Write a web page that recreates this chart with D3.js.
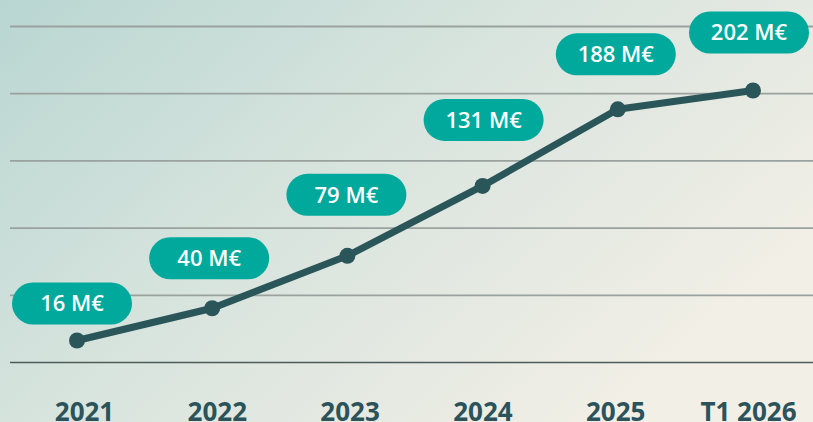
<!DOCTYPE html>
<html>
<head>
<meta charset="utf-8">
<script src="https://cdn.jsdelivr.net/npm/d3@7"></script>
<style>
  html, body { margin: 0; padding: 0; }
  body { width: 813px; height: 422px; overflow: hidden; }
</style>
</head>
<body>
<svg id="chart"></svg>
<script>
// Data
const periods = ['2021', '2022', '2023', '2024', '2025', 'T1 2026'];
const amounts = [16, 40, 79, 131, 188, 202];
const gridValues = [0, 50, 100, 150, 200, 250];

// Label placement (pixels above / beside each point)
const labelLift = [37, 50, 61, 66, 55, 58];
const labelShift = [-5, -3, -1, 1, -2, -4];

const width = 813;
const height = 422;

const svg = d3.select('#chart')
  .attr('width', width)
  .attr('height', height);

// Background gradient
const defs = svg.append('defs');
const grad = defs.append('linearGradient')
  .attr('id', 'bg')
  .attr('x1', '0%').attr('y1', '0%')
  .attr('x2', '100%').attr('y2', '60%');
grad.append('stop').attr('offset', '0%').attr('stop-color', '#b9d6d2');
grad.append('stop').attr('offset', '45%').attr('stop-color', '#d6e3dd');
grad.append('stop').attr('offset', '100%').attr('stop-color', '#f2efe6');

svg.append('rect')
  .attr('width', width)
  .attr('height', height)
  .attr('fill', 'url(#bg)');

// Scales
const xScale = d3.scalePoint()
  .domain(periods)
  .range([77, 753]);

// axis labels sit on a slightly narrower spread than the points
const xLabelScale = d3.scalePoint()
  .domain(periods)
  .range([84, 748]);

const yScale = d3.scaleLinear()
  .domain([0, 250])
  .range([362, 26]);

// Gridlines
svg.append('g')
  .attr('class', 'grid')
  .selectAll('line')
  .data(gridValues)
  .enter().append('line')
  .attr('x1', 10)
  .attr('x2', width)
  .attr('y1', d => yScale(d) + 0.5)
  .attr('y2', d => yScale(d) + 0.5)
  .attr('stroke', d => d === 0 ? '#4d5c5a' : '#9aa29f')
  .attr('stroke-width', d => d === 0 ? 1.6 : 1.8);

// x axis labels
const xAxis = svg.append('g')
  .attr('transform', 'translate(0,421)')
  .call(d3.axisBottom(xLabelScale).tickSize(0).tickPadding(0));

xAxis.select('.domain').remove();
xAxis.selectAll('text')
  .attr('y', 0)
  .attr('dy', 0)
  .style('font-family', '"Open Sans", sans-serif')
  .style('font-weight', 700)
  .style('font-size', '26px')
  .style('fill', '#2b5359');

// Line
const line = d3.line()
  .x((d, i) => xScale(periods[i]))
  .y(d => yScale(d));

svg.append('path')
  .datum(amounts)
  .attr('fill', 'none')
  .attr('stroke', '#2a565a')
  .attr('stroke-width', 7)
  .attr('stroke-linejoin', 'round')
  .attr('d', line);

svg.selectAll('.dot')
  .data(amounts)
  .enter().append('circle')
  .attr('class', 'dot')
  .attr('cx', (d, i) => xScale(periods[i]))
  .attr('cy', d => yScale(d))
  .attr('r', 8)
  .attr('fill', '#2a565a');

// Value pills
const pillW = 120;
const pillH = 42;

const pills = svg.selectAll('.pill')
  .data(amounts)
  .enter().append('g')
  .attr('class', 'pill')
  .attr('transform', (d, i) =>
    `translate(${xScale(periods[i]) + labelShift[i]},${yScale(d) - labelLift[i]})`);

pills.append('rect')
  .attr('x', -pillW / 2)
  .attr('y', -pillH / 2)
  .attr('width', pillW)
  .attr('height', pillH)
  .attr('rx', pillH / 2)
  .attr('fill', '#00a99c');

pills.append('text')
  .attr('text-anchor', 'middle')
  .attr('dy', '0.36em')
  .style('font-family', '"Open Sans", sans-serif')
  .style('font-weight', 600)
  .style('font-size', '22px')
  .style('fill', '#ffffff')
  .text(d => `${d} M€`);
</script>
</body>
</html>
